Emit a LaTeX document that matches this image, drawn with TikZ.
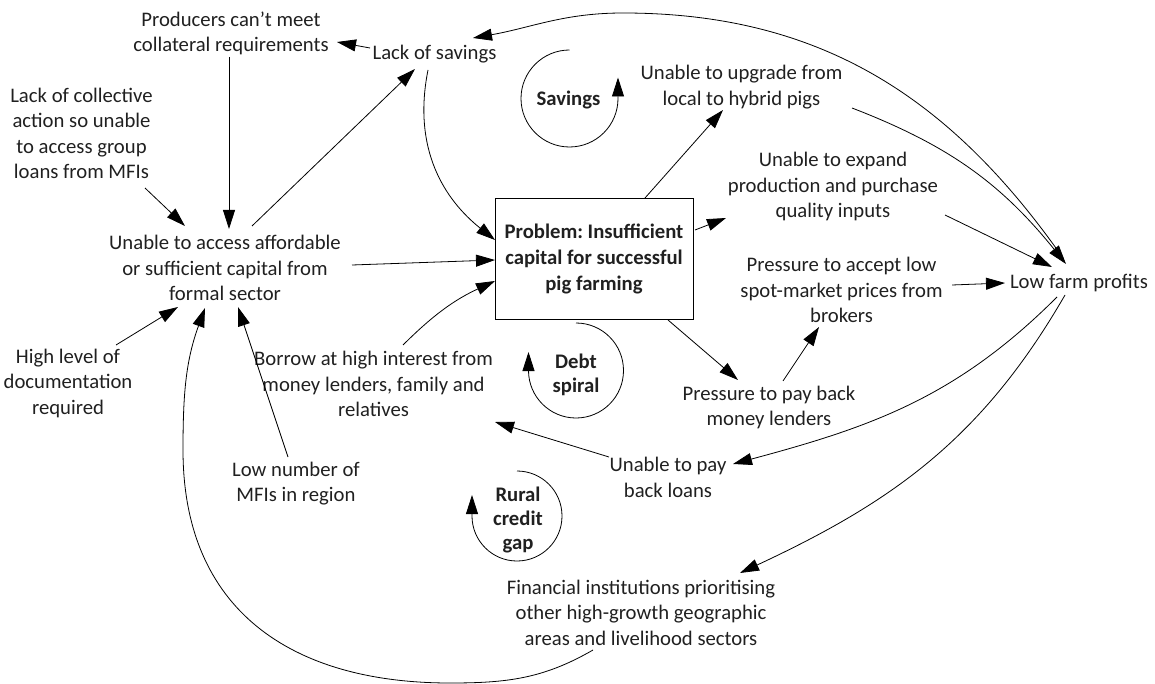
\documentclass[tikz,border=0pt]{standalone}
\usepackage{fontspec}
\setmainfont{Carlito}
\usetikzlibrary{arrows.meta}
\definecolor{txt}{HTML}{202020}
\frenchspacing

\begin{document}
\begin{tikzpicture}[x=1pt,y=1pt,
  every node/.style={font=\fontsize{20.7}{25.5}\selectfont, text=txt, inner sep=0pt, align=center},
  loopname/.style={font=\fontsize{20.7}{24}\selectfont\bfseries},
  problembox/.style={draw=black, line width=0.8pt, minimum width=198pt, minimum height=121pt,
    font=\fontsize{20.7}{26}\selectfont\bfseries},
  link/.style={draw=black, line width=0.8pt, -{Triangle[length=19pt,width=12pt]}},
]
\useasboundingbox (0,0) rectangle (1155,-684);

% factors
\node (prod) at (231,-33.5) {Producers can't meet\\collateral requirements};
\node (sav) at (434.5,-54) {Lack of savings};
\node (coll) at (81.5,-133.3) {Lack of collective\\action so unable\\to access group\\loans from MFIs};
\node (acc) at (225,-268) {Unable to access affordable\\or sufficient capital from\\formal sector};
\node (doc) at (68,-383) {High level of\\documentation\\required};
\node (mfi) at (296,-483.5) {Low number of\\MFIs in region};
\node (bor) at (373.5,-384) {Borrow at high interest from\\money lenders, family and\\relatives};
\node[problembox] (prob) at (594,-258.5) {Problem: Insufficient\\capital for successful\\pig farming};
\node (upg) at (741.5,-87) {Unable to upgrade from\\local to hybrid pigs};
\node (exp) at (833,-186.7) {Unable to expand\\production and purchase\\quality inputs};
\node (acp) at (841.5,-290) {Pressure to accept low\\spot-market prices from\\brokers};
\node (low) at (1079,-283) {Low farm profits};
\node (pay) at (769,-407.5) {Pressure to pay back\\money lenders};
\node (unp) at (668,-477.5) {Unable to pay\\back loans};
\node (fin) at (641,-612.5) {Financial institutions prioritising\\other high-growth geographic\\areas and livelihood sectors};

% loop labels
\node[loopname] (lsav) at (568.5,-100) {Savings};
\node[loopname] (ldebt) at (576,-375) {Debt\\spiral};
\node[loopname] (lrural) at (518,-519.5) {Rural\\credit\\gap};

% causal links
\draw[link] ([shift={(-64.5,6)}]sav.center) -- ([shift={(106,-8.5)}]prod.center);
\draw[link] ([shift={(-2,-23.5)}]prod.center) -- ([shift={(4,39)}]acc.center);
\draw[link] ([shift={(63.5,-54.7)}]coll.center) -- ([shift={(-40,42)}]acc.center);
\draw[link] ([shift={(27,42)}]acc.center) -- ([shift={(-19.5,-15)}]sav.center);
\draw[link] ([shift={(-6.5,-16)}]sav.center) .. controls +(-16,-80) and +(-50,40) .. ([shift={(-99,18.5)}]prob.center);
\draw[link] ([shift={(127,3)}]acc.center) -- ([shift={(-99,-1.5)}]prob.center);
\draw[link] ([shift={(48,38)}]doc.center) -- ([shift={(-47,-39)}]acc.center);
\draw[link] ([shift={(-8,26.5)}]mfi.center) -- ([shift={(13,-39)}]acc.center);
\draw[link] ([shift={(-48,-37.5)}]fin.center) to[out=210,in=0] (450,-683)
  to[out=180,in=-90,looseness=1.15] (183,-450)
  to[out=90,in=-110] ([shift={(-20,-40)}]acc.center);
\draw[link] ([shift={(29.5,39)}]bor.center) to[bend left=10] ([shift={(-99,-22.5)}]prob.center);
\draw[link] ([shift={(-59,20.5)}]unp.center) -- ([shift={(121.5,-38)}]bor.center);
\draw[link] ([shift={(51,60.5)}]prob.center) -- ([shift={(-18.5,-23)}]upg.center);
\draw[link] ([shift={(101,28.5)}]prob.center) -- ([shift={(-107,-31.3)}]exp.center);
\draw[link] ([shift={(74,-61.5)}]prob.center) -- ([shift={(-31,27.5)}]pay.center);
\draw[link] ([shift={(14,26.5)}]pay.center) -- ([shift={(-22.5,-37)}]acp.center);
\draw[link] ([shift={(110.5,5)}]acp.center) -- ([shift={(-74,0)}]low.center);
\draw[link] ([shift={(112,-28.3)}]exp.center) -- ([shift={(-27,16)}]low.center);
\draw[link] ([shift={(110.5,-21)}]upg.center) to[bend left=15] ([shift={(-13,19)}]low.center);
\draw[link] ([shift={(-16,25)}]low.center) to[out=125,in=0] (623,-13) to[out=180,in=10] ([shift={(38.5,16)}]sav.center);
\draw[link] ([shift={(-22,-14)}]low.center) to[out=225,in=15] ([shift={(65,13.5)}]unp.center);
\draw[link] ([shift={(-14,-12)}]low.center) to[out=-120,in=25] ([shift={(99,39.5)}]fin.center);

% feedback loop markers
\draw[link] ([shift={(1,50)}]lsav.center) arc[start angle=90, end angle=360, radius=48.5] -- ++(0,21);
\draw[link] ([shift={(0,52)}]ldebt.center) arc[start angle=90, end angle=-180, radius=47.5] -- ++(0,18.5);
\draw[link] ([shift={(-1,48.5)}]lrural.center) arc[start angle=90, end angle=-180, radius=45] -- ++(0,21);
\end{tikzpicture}
\end{document}
